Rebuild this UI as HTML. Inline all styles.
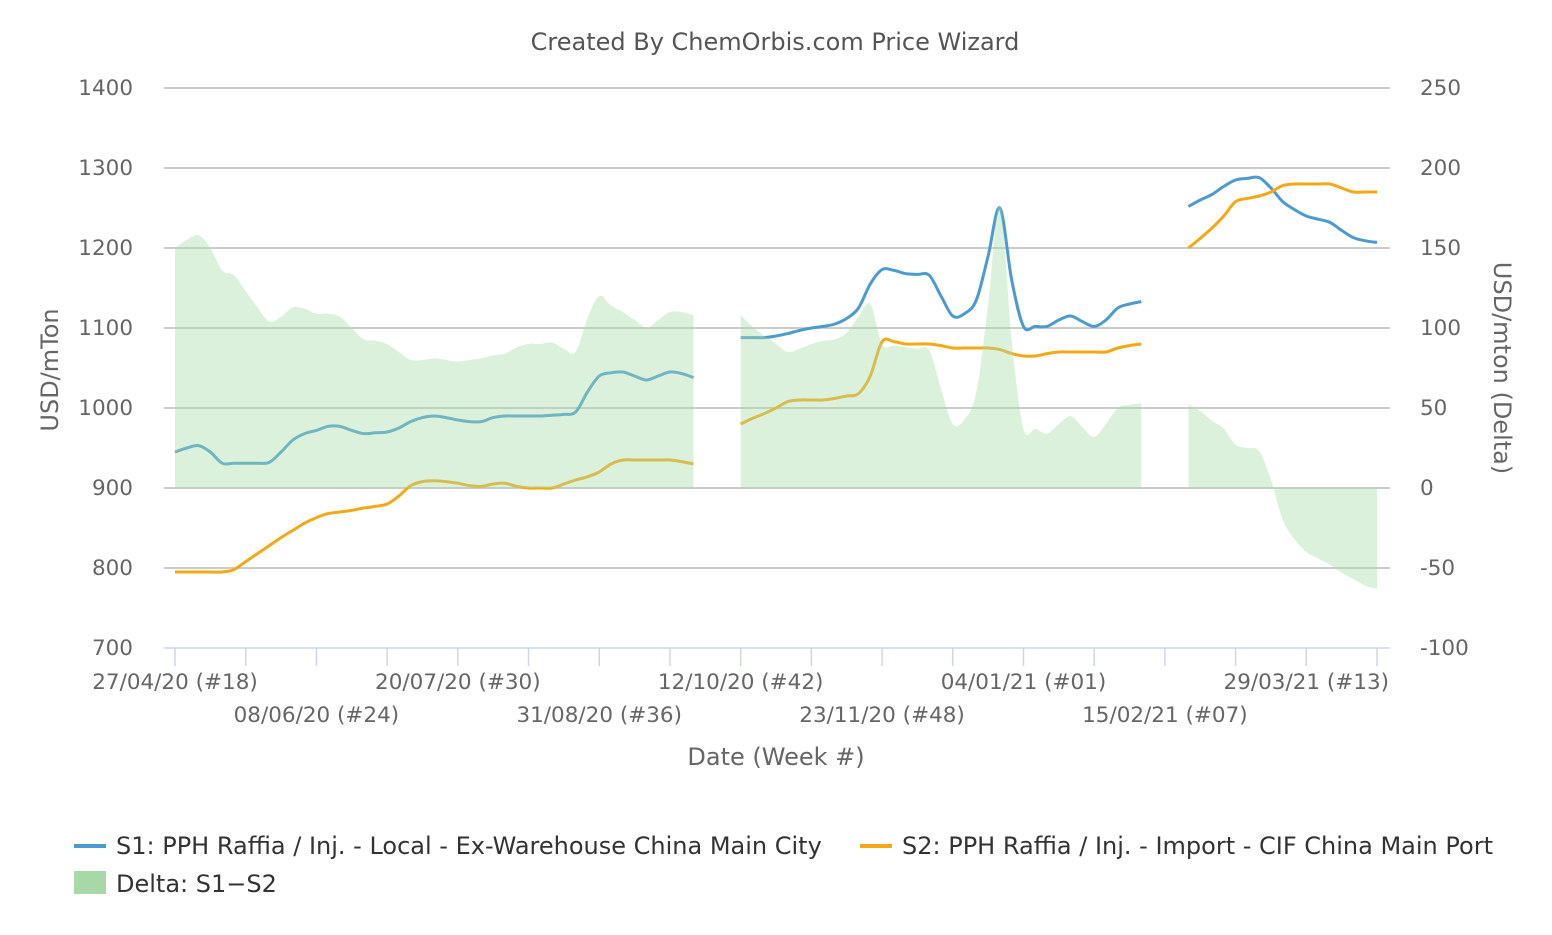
<!DOCTYPE html>
<html><head><meta charset="utf-8"><style>
body{margin:0;background:#fff;font-family:"Liberation Sans","DejaVu Sans",sans-serif}
svg text{font-family:"DejaVu Sans","Liberation Sans",sans-serif}
</style></head><body>
<svg id="chart" width="1552" height="930" xmlns="http://www.w3.org/2000/svg">
<rect width="1552" height="930" fill="#fff"/>
<text x="775" y="50" text-anchor="middle" font-size="24" fill="#555">Created By ChemOrbis.com Price Wizard</text>
<g id="grid"></g><g id="lines"></g><g id="area"></g><g id="axes"></g>
<text transform="translate(58,370) rotate(-90)" text-anchor="middle" font-size="24" fill="#666">USD/mTon</text>
<text transform="translate(1494,368) rotate(90)" text-anchor="middle" font-size="24" fill="#666">USD/mton (Delta)</text>
<text x="776" y="765" text-anchor="middle" font-size="24" fill="#666">Date (Week #)</text>
<g><line x1="74" y1="846" x2="106" y2="846" stroke="#4b9bd1" stroke-width="4"/><text x="116" y="854" font-size="24" fill="#333">S1: PPH Raffia / Inj. - Local - Ex-Warehouse China Main City</text></g>
<g><line x1="860" y1="846" x2="892" y2="846" stroke="#f5a815" stroke-width="4"/><text x="902" y="854" font-size="24" fill="#333">S2: PPH Raffia / Inj. - Import - CIF China Main Port</text></g>
<g><rect x="74" y="871" width="32" height="23" fill="#a8d8a8"/><text x="116" y="892" font-size="24" fill="#333">Delta: S1−S2</text></g>
</svg>
<script>
const N=null;
const s1=[945,950,953,945,931,931,931,931,932,945,960,968,972,977,977,972,968,969,970,975,983,988,990,988,985,983,983,988,990,990,990,990,991,992,995,1020,1040,1044,1045,1040,1035,1040,1045,1043,1038,N,N,N,
1088,1088,1088,1090,1093,1097,1100,1102,1105,1112,1125,1155,1173,1172,1168,1167,1166,1140,1115,1118,1135,1190,1250,1160,1102,1102,1102,1110,1115,1108,1102,1110,1125,1130,1133,N,N,N,
1252,1260,1267,1277,1285,1287,1288,1275,1258,1248,1240,1236,1232,1222,1213,1209,1207];
const s2=[795,795,795,795,795,798,808,818,828,838,847,856,863,868,870,872,875,877,880,890,903,908,909,908,906,903,902,905,906,902,900,900,900,905,910,914,920,930,935,935,935,935,935,933,930,N,N,N,
980,987,993,1000,1008,1010,1010,1010,1012,1015,1018,1040,1083,1083,1080,1080,1080,1078,1075,1075,1075,1075,1073,1068,1065,1065,1068,1070,1070,1070,1070,1070,1075,1078,1080,N,N,N,
1200,1212,1225,1240,1258,1262,1265,1270,1278,1280,1280,1280,1280,1275,1270,1270,1270];
const leftTicks=[700,800,900,1000,1100,1200,1300,1400];
const rightTicks=[-100,-50,0,50,100,150,200,250];
const xLabels=["27/04/20 (#18)","08/06/20 (#24)","20/07/20 (#30)","31/08/20 (#36)","12/10/20 (#42)","23/11/20 (#48)","04/01/21 (#01)","15/02/21 (#07)","29/03/21 (#13)"];
const NS="http://www.w3.org/2000/svg";
const X=i=>175+i*(1202/102);
const Y=v=>648-(v-700)*0.8;
const YR=d=>488-d*1.6;
function el(t,a,p){const e=document.createElementNS(NS,t);for(const k in a)e.setAttribute(k,a[k]);document.getElementById(p).appendChild(e);return e;}
leftTicks.forEach(v=>{
 const g=el('line',{x1:164,x2:1390,y1:Y(v),y2:Y(v),stroke:v==700?'#ccd6eb':'#bbb','stroke-width':1.5},'grid');
 
 
 const t=el('text',{x:133,y:Y(v)+7,'text-anchor':'end','font-size':21.5,fill:'#666'},'axes');t.textContent=v;
 
 
});
rightTicks.forEach(v=>{
 const t=el('text',{x:1420,y:YR(v)+7,'font-size':21.5,fill:'#666'},'axes');t.textContent=v;
 
 
});
for(let k=0;k<=17;k++){
 const x=X(k*6);
 const tk=el('line',{x1:x,x2:x,y1:648,y2:666,stroke:'#ccd6eb','stroke-width':1.5},'axes');
 
 
}
xLabels.forEach((s,k)=>{
 const t=el('text',{x:X(k*12),y:k%2?722:689,'text-anchor':'middle','font-size':21.5,fill:'#666'},'axes');t.textContent=s;
 
 
});
function segs(arr){const out=[];let cur=[];arr.forEach((v,i)=>{if(v==null){if(cur.length)out.push(cur);cur=[];}else cur.push([i,v]);});if(cur.length)out.push(cur);return out;}
function smooth(pts){let d='M'+pts[0][0]+','+pts[0][1];for(let i=0;i<pts.length-1;i++){const p0=pts[Math.max(0,i-1)],p1=pts[i],p2=pts[i+1],p3=pts[Math.min(pts.length-1,i+2)];
 const c1=[p1[0]+(p2[0]-p0[0])/6,p1[1]+(p2[1]-p0[1])/6],c2=[p2[0]-(p3[0]-p1[0])/6,p2[1]-(p3[1]-p1[1])/6];d+=' C'+c1+' '+c2+' '+p2;}return d;}
[[s1,'#4b9bd1','s1-line'],[s2,'#f5a815','s2-line']].forEach(([a,c,n])=>{
 segs(a).forEach(sg=>{const p=el('path',{d:smooth(sg.map(([i,v])=>[X(i),Y(v)])),fill:'none',stroke:c,'stroke-width':3},'lines');
 
 });
});
const delta=s1.map((v,i)=>v==null||s2[i]==null?null:v-s2[i]);
segs(delta).forEach(sg=>{
 const pts=sg.map(([i,v])=>[X(i),YR(v)]);
 const d=smooth(pts)+' L'+pts[pts.length-1][0]+','+YR(0)+' L'+pts[0][0]+','+YR(0)+' Z';
 const p=el('path',{d:d,fill:'#a8dca8','fill-opacity':0.4},'area');
 
 
});
</script>
</body></html>
